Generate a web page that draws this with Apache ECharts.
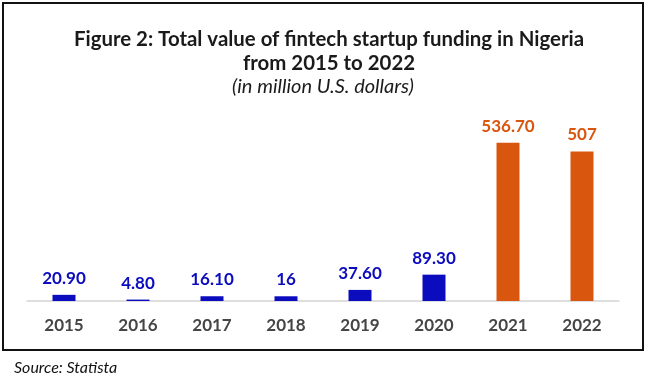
<!DOCTYPE html>
<html><head><meta charset="utf-8">
<script src="https://cdn.jsdelivr.net/npm/echarts@6/dist/echarts.min.js"></script>
<style>html,body{margin:0;padding:0;background:#fff}#c{width:650px;height:381px}</style>
</head><body><div id="c"></div>
<script>
const categories = ['2015','2016','2017','2018','2019','2020','2021','2022'];
const values = [20.9, 4.8, 16.1, 16, 37.6, 89.3, 536.7, 507];
const labels = ['20.90','4.80','16.10','16','37.60','89.30','536.70','507'];
const BLUE = '#0c0cbf', ORANGE = '#d9560f';
const FONT = 'Lato';
const chart = echarts.init(document.getElementById('c'), null, {renderer:'canvas'});
chart.setOption({
  animation:false,
  graphic:[
    {type:'rect', shape:{x:3,y:3,width:640,height:347}, style:{fill:'none', stroke:'#111', lineWidth:2}},
    {type:'text', x:329, y:39, style:{text:'Figure 2: Total value of fintech startup funding in Nigeria', textAlign:'center', textVerticalAlign:'middle',
      font:'bold 20.4px Lato', fill:'#1a1a1a'}},
    {type:'text', x:329, y:63, style:{text:'from 2015 to 2022', textAlign:'center', textVerticalAlign:'middle',
      font:'bold 20.4px Lato', fill:'#1a1a1a'}},
    {type:'text', x:323, y:87, style:{text:'(in million U.S. dollars)', textAlign:'center', textVerticalAlign:'middle',
      font:'italic 20px Lato', fill:'#1a1a1a'}},
    {type:'text', x:14, y:368, style:{text:'Source: Statista', textAlign:'left', textVerticalAlign:'middle',
      font:'italic 16px Lato', fill:'#111'}}
  ],
  grid:{left:27, width:592, top:124, bottom:80, containLabel:false},
  xAxis:{type:'category', data:categories,
    axisLine:{lineStyle:{color:'#d4d4d4', width:1.5}}, axisTick:{show:false},
    axisLabel:{fontFamily:FONT, fontWeight:'bold', fontSize:17, color:'#454545', margin:16}},
  yAxis:{type:'value', min:0, max:600, show:false, splitLine:{show:false}},
  series:[{type:'bar', barWidth:23,
    data: values.map((v,i)=>({value:v, itemStyle:{color: i>=6?ORANGE:BLUE},
      label:{color: i>=6?ORANGE:BLUE, formatter: labels[i]}})),
    label:{show:true, position:'top', distance:8, fontFamily:FONT, fontWeight:'bold', fontSize:17}
  }]
});
</script></body></html>
